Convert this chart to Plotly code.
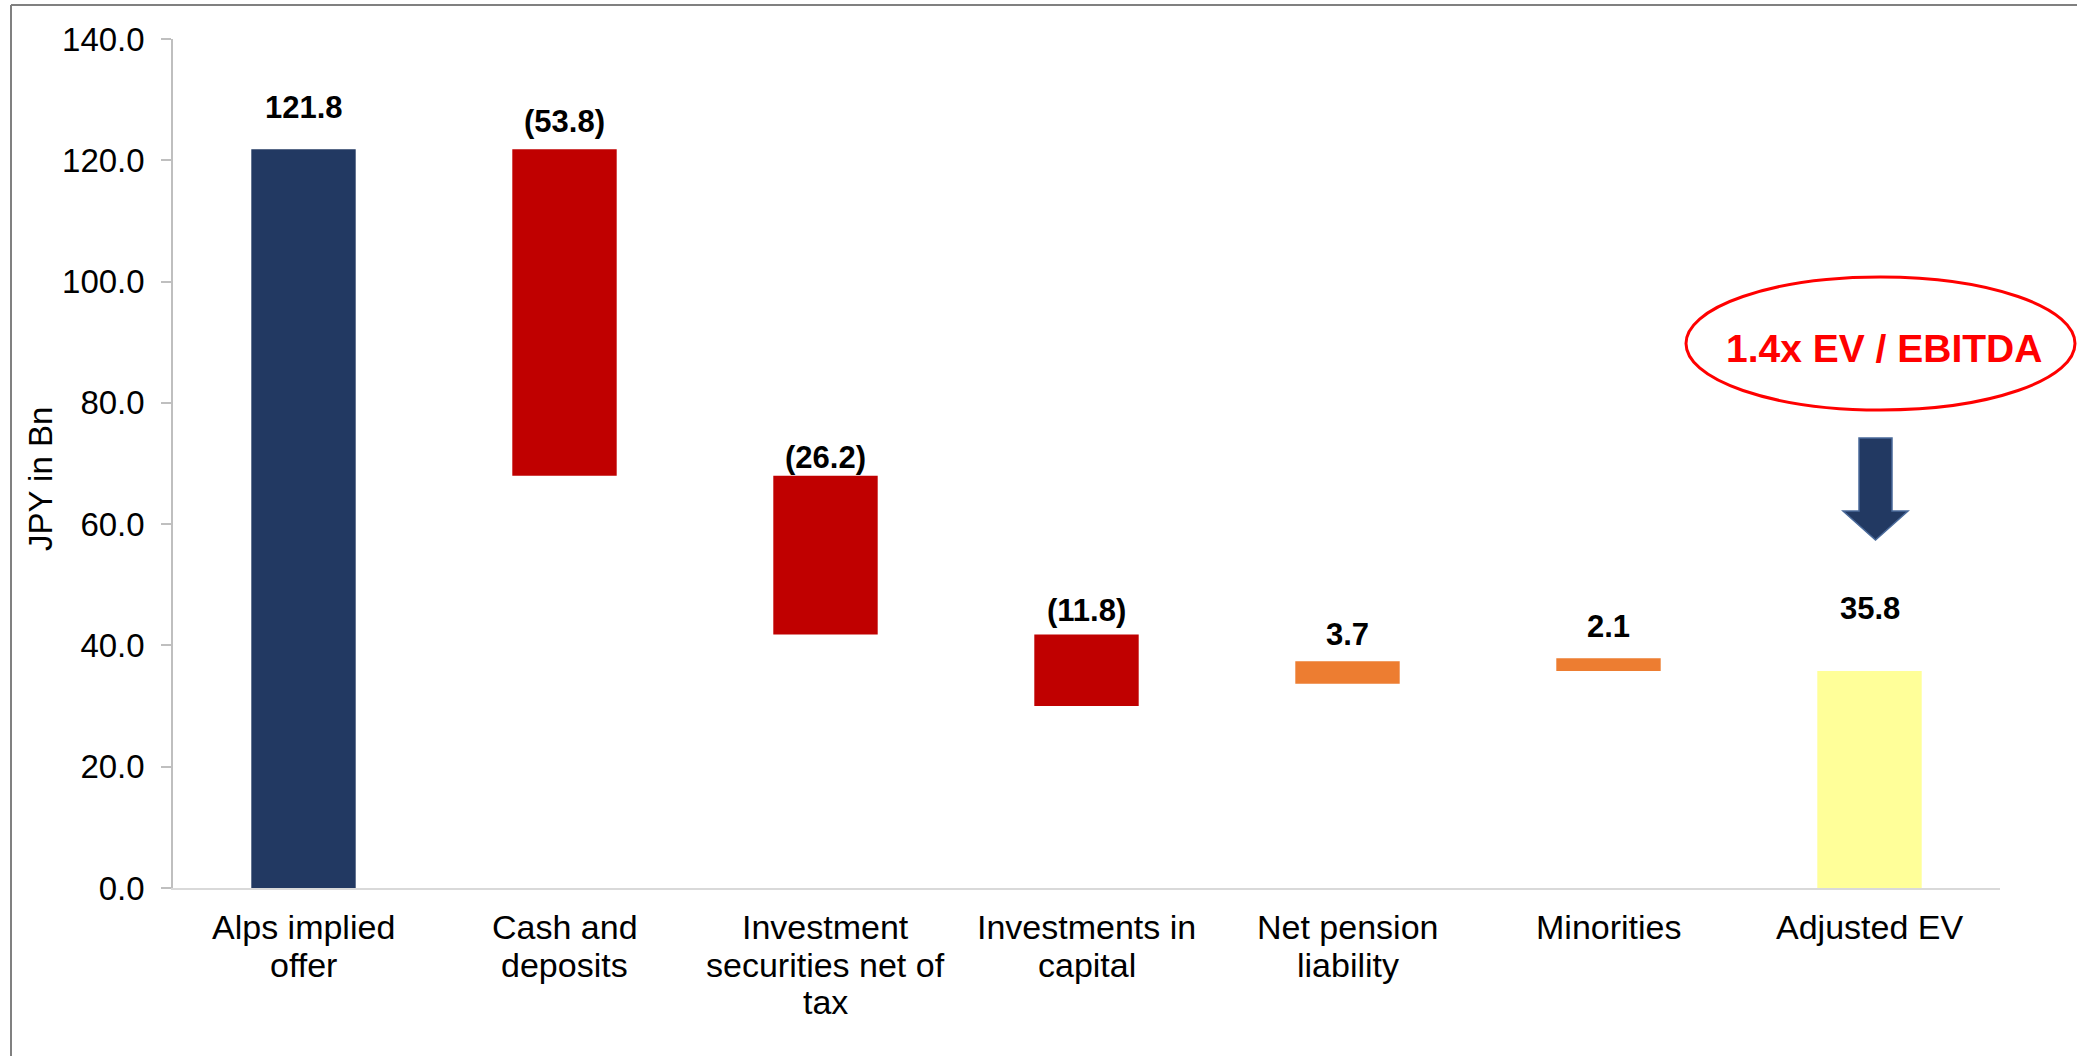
import plotly.graph_objects as go

# Bridge from implied offer value to adjusted EV (JPY bn)
categories = ["Alps implied offer", "Cash and deposits", "Investment securities net of tax",
              "Investments in capital", "Net pension liability", "Minorities", "Adjusted EV"]
tick_labels = ["Alps implied<br>offer", "Cash and<br>deposits", "Investment<br>securities net of<br>tax",
               "Investments in<br>capital", "Net pension<br>liability", "Minorities", "Adjusted EV"]
changes = [121.8, -53.8, -26.2, -11.8, 3.7, 2.1, 35.8]
kinds = ["total", "step", "step", "step", "step", "step", "total"]
y_ticks = [0, 20, 40, 60, 80, 100, 120, 140]

colors = ["#223962", "#C00000", "#C00000", "#C00000", "#ED7D31", "#ED7D31", "#FFFF99"]
label_shift = [42, 28, 18, 24, 27, 32, 62]  # px above each bar top

# Floating bars sit on the running total reached after each step
heights, bases = [], []
running = 0.0
for v, k in zip(changes, kinds):
    if k == "total":
        running = v
        bases.append(0.0)
    else:
        running += v
        bases.append(running)
    heights.append(abs(v))

def fmt(v):
    return f"({abs(v):.1f})" if v < 0 else f"{v:.1f}"

FONT = "Liberation Sans, Arial, sans-serif"
W, H = 2077, 1056
L, R, T, B = 173, 77, 39, 168
pw, ph = W - L - R, H - T - B

def px(x):
    return (x - L) / pw

def py(y):
    return (H - B - y) / ph

fig = go.Figure()
fig.add_trace(go.Bar(
    x=categories, y=heights, base=bases,
    marker=dict(color=colors, line=dict(width=0)),
    hoverinfo="skip", showlegend=False,
))

annotations = []
for c, b, h, v, s in zip(categories, bases, heights, changes, label_shift):
    annotations.append(dict(
        x=c, y=b + h, xref="x", yref="y", text=f"<b>{fmt(v)}</b>", showarrow=False,
        yanchor="middle", yshift=s, font=dict(family=FONT, size=31, color="#000000"),
    ))

# category labels under the axis, tight line spacing
LINE_FIRST, LINE_STEP = 39, 37.5
for c, t in zip(categories, tick_labels):
    for i, line in enumerate(t.split("<br>")):
        annotations.append(dict(
            x=c, y=0, xref="x", yref="paper", text=line, showarrow=False,
            xanchor="center", yanchor="middle", yshift=-(LINE_FIRST + i * LINE_STEP),
            font=dict(family=FONT, size=34, color="#000000"),
        ))

# y-axis title
annotations.append(dict(
    x=px(40), y=py(479), xref="paper", yref="paper", text="JPY in Bn", textangle=-90,
    showarrow=False, xanchor="center", yanchor="middle",
    font=dict(family=FONT, size=33, color="#000000"),
))
# multiple callout
annotations.append(dict(
    x=px(1884), y=py(348), xref="paper", yref="paper", text="<b>1.4x EV / EBITDA</b>",
    showarrow=False, xanchor="center", yanchor="middle",
    font=dict(family=FONT, size=39, color="#FF0000"),
))

shapes = [
    # outer frame (left and top edges)
    dict(type="line", xref="paper", yref="paper", x0=px(11), x1=px(11), y0=py(1060), y1=py(5),
         line=dict(color="#808080", width=2)),
    dict(type="line", xref="paper", yref="paper", x0=px(11), x1=px(2080), y0=py(5), y1=py(5),
         line=dict(color="#808080", width=2)),
    # callout ellipse
    dict(type="circle", xref="paper", yref="paper", x0=px(1686), x1=px(2075), y0=py(410), y1=py(277),
         line=dict(color="#FF0000", width=3)),
]

# down arrow pointing to adjusted EV
ax = [px(1859), px(1892), px(1843), px(1908), px(1875.5)]
ay = [py(438), py(511), py(540)]
path = (f"M {ax[0]} {ay[0]} L {ax[1]} {ay[0]} L {ax[1]} {ay[1]} L {ax[3]} {ay[1]} "
        f"L {ax[4]} {ay[2]} L {ax[2]} {ay[1]} L {ax[0]} {ay[1]} Z")
shapes.append(dict(type="path", xref="paper", yref="paper", path=path,
                   fillcolor="#223962", line=dict(color="#4A6A9A", width=1.5)))

fig.update_layout(
    width=W, height=H,
    margin=dict(l=L, r=R, t=T, b=B, pad=0),
    paper_bgcolor="#FFFFFF", plot_bgcolor="#FFFFFF",
    bargap=0.6,
    font=dict(family=FONT, size=33, color="#000000"),
    annotations=annotations, shapes=shapes,
    xaxis=dict(
        categoryorder="array", categoryarray=categories, showticklabels=False,
        showline=True, linecolor="#D9D9D9", linewidth=2, ticks="",
        showgrid=False, zeroline=False,
    ),
    yaxis=dict(
        range=[0, 140], tickvals=y_ticks, tickformat=".1f",
        showline=True, linecolor="#BFBFBF", linewidth=1.5,
        ticks="outside", ticklen=10, tickcolor="#BFBFBF", tickwidth=1.5,
        showgrid=False, zeroline=False, tickfont=dict(family=FONT, size=33, color="#000000"),
        ticklabelstandoff=10,
    ),
)

fig.write_html("out.html")
